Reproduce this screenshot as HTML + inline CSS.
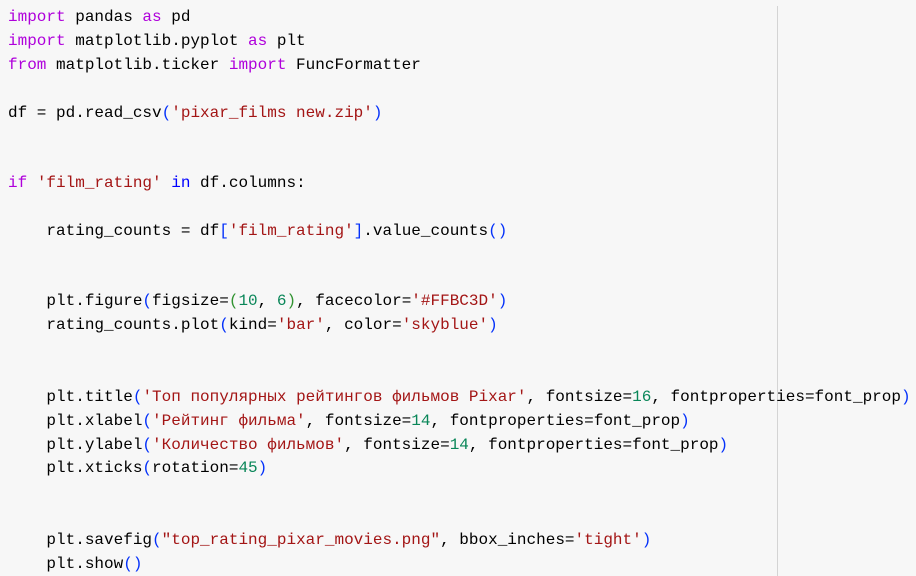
<!DOCTYPE html>
<html><head><meta charset="utf-8"><style>
body{margin:0;width:916px;height:576px;background:#f7f7f7;overflow:hidden;position:relative}
.l{position:absolute;left:8px;height:24px;line-height:24px;font-family:"Liberation Mono","DejaVu Sans Mono",monospace;font-size:16px;color:#000;white-space:pre}
.k{color:#af00db}.b{color:#0000ff}.s{color:#a31515}.n{color:#098658}.p{color:#0431fa}.g{color:#319331}
.vr{position:absolute;left:777px;top:6px;width:1px;height:570px;background:#d4d4d4}
</style></head><body>
<div class="vr"></div>
<div class="l" style="top:5px"><span class="k">import</span> pandas <span class="k">as</span> pd</div>
<div class="l" style="top:29px"><span class="k">import</span> matplotlib.pyplot <span class="k">as</span> plt</div>
<div class="l" style="top:53px"><span class="k">from</span> matplotlib.ticker <span class="k">import</span> FuncFormatter</div>
<div class="l" style="top:101px">df = pd.read_csv<span class="p">(</span><span class="s">'pixar_films new.zip'</span><span class="p">)</span></div>
<div class="l" style="top:171px"><span class="k">if</span> <span class="s">'film_rating'</span> <span class="b">in</span> df.columns:</div>
<div class="l" style="top:219px">    rating_counts = df<span class="p">[</span><span class="s">'film_rating'</span><span class="p">]</span>.value_counts<span class="p">()</span></div>
<div class="l" style="top:289px">    plt.figure<span class="p">(</span>figsize=<span class="g">(</span><span class="n">10</span>, <span class="n">6</span><span class="g">)</span>, facecolor=<span class="s">'#FFBC3D'</span><span class="p">)</span></div>
<div class="l" style="top:313px">    rating_counts.plot<span class="p">(</span>kind=<span class="s">'bar'</span>, color=<span class="s">'skyblue'</span><span class="p">)</span></div>
<div class="l" style="top:385px">    plt.title<span class="p">(</span><span class="s">'Топ популярных рейтингов фильмов Pixar'</span>, fontsize=<span class="n">16</span>, fontproperties=font_prop<span class="p">)</span></div>
<div class="l" style="top:409px">    plt.xlabel<span class="p">(</span><span class="s">'Рейтинг фильма'</span>, fontsize=<span class="n">14</span>, fontproperties=font_prop<span class="p">)</span></div>
<div class="l" style="top:433px">    plt.ylabel<span class="p">(</span><span class="s">'Количество фильмов'</span>, fontsize=<span class="n">14</span>, fontproperties=font_prop<span class="p">)</span></div>
<div class="l" style="top:456px">    plt.xticks<span class="p">(</span>rotation=<span class="n">45</span><span class="p">)</span></div>
<div class="l" style="top:528px">    plt.savefig<span class="p">(</span><span class="s">"top_rating_pixar_movies.png"</span>, bbox_inches=<span class="s">'tight'</span><span class="p">)</span></div>
<div class="l" style="top:552px">    plt.show<span class="p">()</span></div>
</body></html>
